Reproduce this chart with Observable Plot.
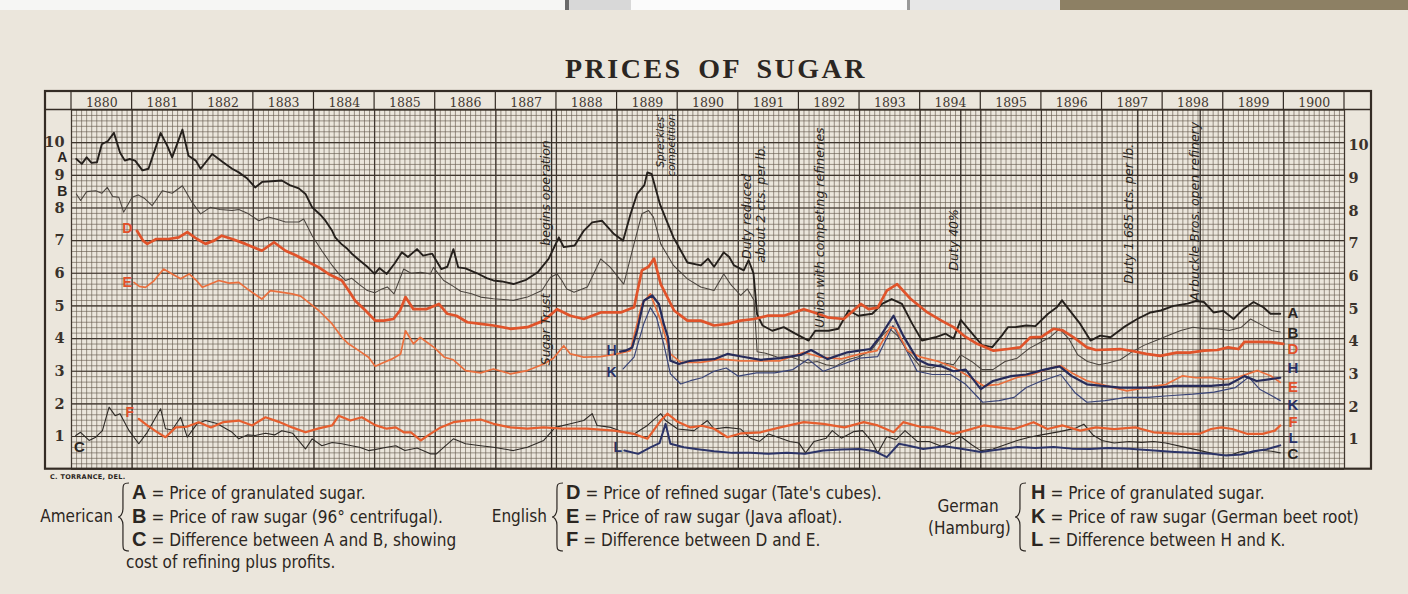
<!DOCTYPE html>
<html><head><meta charset="utf-8">
<script src="https://cdn.jsdelivr.net/npm/d3@7"></script>
<script src="https://cdn.jsdelivr.net/npm/@observablehq/plot@0.6"></script>
<style>
html,body{margin:0;padding:0}
body{width:1408px;height:594px;overflow:hidden;position:relative;background:#ebe6dc;color:#2b2622}
.top{position:absolute;top:0;height:10px}
#title{position:absolute;left:12px;width:1408px;top:52px;line-height:34px;text-align:center;font-family:"Liberation Serif",serif;font-weight:bold;font-size:28px;letter-spacing:2.5px;word-spacing:6px;color:#2b2622}
#chart{position:absolute;left:0;top:88px}
.lg{position:absolute;font-family:"Liberation Sans Narrow","DejaVu Sans Condensed","Liberation Sans",sans-serif;font-size:17px;line-height:20px;white-space:nowrap;color:#2b2622}
.lg b{font-family:"Liberation Sans",sans-serif;font-weight:bold;font-size:20px;margin-right:5px}
.brace{position:absolute}
#del{position:absolute;left:50px;top:473px;font-family:"DejaVu Sans",sans-serif;font-weight:bold;font-size:6.5px;letter-spacing:0.3px;color:#2b2622}
</style></head>
<body>
<div class="top" style="left:0;width:565px;background:#f6f6f4"></div>
<div class="top" style="left:565px;width:4px;background:#6a6a6a"></div>
<div class="top" style="left:569px;width:62px;background:#d8d8d8"></div>
<div class="top" style="left:631px;width:276px;background:#fbfbfb"></div>
<div class="top" style="left:907px;width:3px;background:#9a9a9a"></div>
<div class="top" style="left:910px;width:150px;background:#e7e7e7"></div>
<div class="top" style="left:1060px;width:348px;background:#8d8064"></div>
<div id="title">PRICES OF SUGAR</div>
<div id="chart"></div>
<div id="del">C. TORRANCE, DEL.</div>
<div id="legend"></div>
<script>
// ---------- data: [year, cents per lb] ----------
const seriesA = [[1880.08,9.5],[1880.17,9.35],[1880.25,9.55],[1880.33,9.38],[1880.42,9.4],[1880.5,9.95],[1880.6,10.05],[1880.7,10.3],[1880.8,9.7],[1880.88,9.45],[1880.96,9.5],[1881.05,9.45],[1881.17,9.15],[1881.27,9.2],[1881.47,10.3],[1881.58,9.9],[1881.66,9.55],[1881.83,10.4],[1881.93,9.6],[1882.05,9.45],[1882.13,9.2],[1882.32,9.65],[1882.5,9.4],[1882.65,9.2],[1882.76,9.09],[1882.9,8.9],[1883.03,8.63],[1883.15,8.8],[1883.3,8.82],[1883.47,8.84],[1883.6,8.7],[1883.75,8.6],[1883.86,8.43],[1883.97,8.02],[1884.1,7.8],[1884.19,7.61],[1884.3,7.3],[1884.35,7.1],[1884.45,6.9],[1884.55,6.75],[1884.63,6.59],[1884.75,6.4],[1884.88,6.2],[1885.0,5.98],[1885.08,6.16],[1885.2,5.98],[1885.33,6.3],[1885.45,6.64],[1885.55,6.5],[1885.7,6.74],[1885.8,6.54],[1885.95,6.6],[1886.1,6.13],[1886.2,6.2],[1886.3,6.74],[1886.38,6.18],[1886.5,6.15],[1886.69,6.0],[1886.85,5.85],[1886.96,5.78],[1887.1,5.75],[1887.29,5.67],[1887.5,5.8],[1887.69,6.03],[1887.87,6.44],[1888.04,7.1],[1888.12,6.8],[1888.3,6.85],[1888.45,7.3],[1888.59,7.56],[1888.75,7.61],[1888.95,7.2],[1889.1,7.0],[1889.22,7.8],[1889.33,8.43],[1889.45,8.7],[1889.5,9.09],[1889.57,9.04],[1889.71,8.1],[1889.82,7.6],[1889.93,7.1],[1890.05,6.7],[1890.16,6.33],[1890.38,6.24],[1890.5,6.45],[1890.6,6.2],[1890.76,6.64],[1890.85,6.5],[1890.93,6.24],[1891.09,6.09],[1891.17,6.4],[1891.25,6.0],[1891.31,4.74],[1891.4,4.4],[1891.56,4.24],[1891.75,4.35],[1891.94,4.15],[1892.16,3.94],[1892.27,4.24],[1892.49,4.24],[1892.65,4.3],[1892.82,4.86],[1892.98,4.7],[1893.21,4.76],[1893.37,5.06],[1893.53,5.21],[1893.7,5.06],[1893.87,4.45],[1894.03,3.94],[1894.25,4.04],[1894.42,4.15],[1894.55,4.0],[1894.67,4.57],[1894.86,4.15],[1895.02,3.8],[1895.19,3.74],[1895.35,4.1],[1895.45,4.35],[1895.57,4.35],[1895.75,4.4],[1895.9,4.38],[1896.11,4.76],[1896.25,4.95],[1896.34,5.17],[1896.45,4.9],[1896.64,4.45],[1896.81,3.94],[1896.97,4.09],[1897.14,4.04],[1897.36,4.35],[1897.58,4.6],[1897.8,4.8],[1897.97,4.86],[1898.18,5.0],[1898.41,5.07],[1898.55,5.15],[1898.68,5.12],[1898.84,4.8],[1899.0,4.85],[1899.17,4.6],[1899.33,4.9],[1899.5,5.12],[1899.66,4.96],[1899.78,4.76],[1899.94,4.76]];
const seriesB = [[1880.08,8.43],[1880.15,8.23],[1880.25,8.5],[1880.4,8.53],[1880.5,8.45],[1880.59,8.63],[1880.68,8.35],[1880.78,8.33],[1880.86,7.87],[1881.0,8.33],[1881.1,8.4],[1881.2,8.3],[1881.33,8.07],[1881.5,8.53],[1881.66,8.45],[1881.83,8.68],[1881.99,8.17],[1882.13,7.82],[1882.29,8.02],[1882.45,7.95],[1882.65,7.92],[1882.76,7.95],[1882.92,7.82],[1883.09,7.61],[1883.25,7.72],[1883.4,7.65],[1883.53,7.57],[1883.75,7.57],[1883.83,7.66],[1883.97,7.15],[1884.13,6.69],[1884.3,6.24],[1884.41,5.98],[1884.52,5.78],[1884.62,5.85],[1884.74,5.67],[1884.88,5.47],[1885.0,5.4],[1885.1,5.5],[1885.21,5.58],[1885.32,5.37],[1885.48,6.13],[1885.6,6.0],[1885.76,6.03],[1885.92,5.98],[1885.97,6.18],[1886.14,5.78],[1886.3,5.6],[1886.42,5.45],[1886.6,5.37],[1886.75,5.27],[1886.96,5.22],[1887.29,5.17],[1887.52,5.27],[1887.76,5.47],[1887.9,5.88],[1888.01,5.98],[1888.09,5.78],[1888.17,5.52],[1888.29,5.42],[1888.51,5.58],[1888.73,6.44],[1888.89,6.18],[1889.11,5.67],[1889.28,6.9],[1889.41,7.82],[1889.52,7.92],[1889.6,7.72],[1889.72,6.9],[1889.93,6.24],[1890.16,5.83],[1890.38,5.58],[1890.6,5.47],[1890.76,5.98],[1890.87,5.67],[1891.04,5.32],[1891.15,5.52],[1891.26,5.17],[1891.31,3.6],[1891.45,3.55],[1891.65,3.43],[1891.85,3.45],[1892.0,3.35],[1892.15,3.25],[1892.3,3.3],[1892.45,3.2],[1892.6,3.15],[1892.8,3.35],[1893.0,3.45],[1893.2,3.65],[1893.4,4.15],[1893.5,4.3],[1893.62,4.1],[1893.8,3.6],[1894.0,3.15],[1894.2,3.1],[1894.4,3.25],[1894.55,3.2],[1894.67,3.5],[1894.85,3.3],[1895.02,3.05],[1895.2,3.05],[1895.4,3.3],[1895.6,3.4],[1895.8,3.7],[1895.95,3.85],[1896.15,4.05],[1896.3,4.3],[1896.45,4.0],[1896.6,3.5],[1896.76,3.3],[1896.95,3.2],[1897.1,3.25],[1897.3,3.35],[1897.5,3.6],[1897.7,3.8],[1897.9,3.95],[1898.1,4.1],[1898.3,4.25],[1898.5,4.35],[1898.7,4.3],[1898.9,4.3],[1899.1,4.25],[1899.3,4.35],[1899.45,4.6],[1899.6,4.45],[1899.8,4.25],[1899.94,4.2]];
const seriesC = [[1880.07,1.03],[1880.15,1.13],[1880.29,0.88],[1880.4,0.98],[1880.51,1.18],[1880.62,1.9],[1880.72,1.64],[1880.8,1.7],[1880.95,1.18],[1881.11,0.78],[1881.25,1.13],[1881.47,1.85],[1881.55,1.24],[1881.66,1.2],[1881.8,1.59],[1881.91,0.98],[1882.07,1.39],[1882.21,1.49],[1882.4,1.4],[1882.65,1.13],[1882.76,0.93],[1882.9,1.05],[1883.03,1.03],[1883.2,1.1],[1883.35,1.05],[1883.47,1.18],[1883.65,1.1],[1883.86,0.62],[1883.97,0.93],[1884.13,0.72],[1884.3,0.82],[1884.46,0.78],[1884.62,0.72],[1884.75,0.67],[1884.9,0.57],[1885.0,0.6],[1885.2,0.67],[1885.35,0.72],[1885.5,0.57],[1885.7,0.65],[1885.92,0.47],[1886.02,0.47],[1886.14,0.67],[1886.3,0.93],[1886.5,0.78],[1886.75,0.72],[1886.96,0.67],[1887.29,0.57],[1887.52,0.67],[1887.79,0.88],[1887.98,1.28],[1888.23,1.39],[1888.45,1.49],[1888.59,1.7],[1888.67,1.34],[1888.9,1.28],[1889.11,1.13],[1889.28,1.08],[1889.5,1.34],[1889.72,1.7],[1889.8,1.49],[1890.0,1.23],[1890.27,1.18],[1890.49,1.49],[1890.6,1.23],[1890.8,1.28],[1891.04,1.23],[1891.2,0.95],[1891.35,0.85],[1891.5,1.08],[1891.7,0.95],[1891.85,0.85],[1892.0,0.8],[1892.11,0.5],[1892.25,0.85],[1892.45,0.95],[1892.55,1.18],[1892.7,0.95],[1892.9,1.15],[1893.05,1.18],[1893.2,0.85],[1893.3,0.5],[1893.45,1.0],[1893.6,0.9],[1893.75,1.18],[1893.95,0.85],[1894.15,0.85],[1894.35,0.7],[1894.5,0.8],[1894.67,1.0],[1894.85,0.75],[1895.0,0.57],[1895.2,0.62],[1895.4,0.75],[1895.6,0.88],[1895.8,0.98],[1896.0,1.05],[1896.3,1.15],[1896.55,1.25],[1896.7,1.38],[1896.85,1.05],[1897.0,0.88],[1897.2,0.8],[1897.45,0.85],[1897.65,0.82],[1897.85,0.85],[1898.05,0.8],[1898.3,0.7],[1898.55,0.6],[1898.85,0.47],[1899.0,0.42],[1899.15,0.45],[1899.3,0.55],[1899.45,0.5],[1899.6,0.58],[1899.8,0.55],[1899.94,0.5]];
const seriesD = [[1881.08,7.3],[1881.18,7.0],[1881.25,6.9],[1881.4,7.05],[1881.6,7.05],[1881.77,7.1],[1881.91,7.26],[1882.07,7.05],[1882.21,6.9],[1882.35,7.0],[1882.48,7.15],[1882.65,7.05],[1882.87,6.9],[1883.0,6.8],[1883.14,6.69],[1883.34,6.95],[1883.53,6.69],[1883.7,6.55],[1883.86,6.39],[1884.08,6.18],[1884.24,5.98],[1884.46,5.78],[1884.58,5.45],[1884.68,5.16],[1884.85,4.86],[1885.01,4.55],[1885.15,4.55],[1885.31,4.6],[1885.42,4.86],[1885.51,5.27],[1885.64,4.9],[1885.85,4.9],[1886.06,5.06],[1886.2,4.76],[1886.35,4.7],[1886.53,4.5],[1886.75,4.45],[1886.96,4.4],[1887.24,4.3],[1887.52,4.35],[1887.79,4.55],[1888.01,4.9],[1888.23,4.7],[1888.45,4.6],[1888.73,4.8],[1889.06,4.8],[1889.28,4.96],[1889.41,6.09],[1889.52,6.2],[1889.61,6.45],[1889.72,5.67],[1889.94,4.86],[1890.16,4.55],[1890.38,4.55],[1890.6,4.4],[1890.82,4.45],[1891.04,4.55],[1891.26,4.6],[1891.48,4.7],[1891.75,4.7],[1892.08,4.9],[1892.25,4.8],[1892.47,4.65],[1892.74,4.6],[1893.02,5.06],[1893.15,4.9],[1893.3,4.95],[1893.45,5.47],[1893.62,5.67],[1893.84,5.22],[1894.12,4.8],[1894.35,4.55],[1894.55,4.35],[1894.75,4.05],[1894.94,3.84],[1895.21,3.63],[1895.45,3.68],[1895.65,3.73],[1895.82,4.04],[1896.0,4.05],[1896.2,4.3],[1896.35,4.25],[1896.53,4.04],[1896.75,3.73],[1896.9,3.65],[1897.3,3.68],[1897.5,3.62],[1897.73,3.53],[1897.96,3.47],[1898.23,3.57],[1898.45,3.57],[1898.68,3.63],[1898.9,3.65],[1899.08,3.73],[1899.25,3.68],[1899.35,3.9],[1899.6,3.9],[1899.78,3.89],[1899.99,3.84]];
const seriesE = [[1881.03,5.72],[1881.12,5.6],[1881.22,5.57],[1881.35,5.75],[1881.52,6.13],[1881.66,5.98],[1881.8,5.83],[1881.94,5.98],[1882.05,5.8],[1882.16,5.57],[1882.43,5.78],[1882.6,5.7],[1882.76,5.72],[1882.9,5.52],[1883.14,5.21],[1883.28,5.47],[1883.45,5.42],[1883.64,5.37],[1883.78,5.3],[1883.91,5.11],[1884.08,4.86],[1884.3,4.45],[1884.46,4.04],[1884.57,3.84],[1884.74,3.63],[1884.9,3.43],[1885.01,3.15],[1885.15,3.27],[1885.28,3.37],[1885.43,3.53],[1885.51,4.24],[1885.64,3.84],[1885.75,4.04],[1885.98,3.73],[1886.15,3.43],[1886.3,3.35],[1886.5,3.02],[1886.75,2.95],[1886.96,3.07],[1887.24,2.92],[1887.52,3.02],[1887.79,3.22],[1887.95,3.4],[1888.12,3.78],[1888.23,3.53],[1888.45,3.43],[1888.73,3.45],[1889.0,3.53],[1889.22,3.63],[1889.41,5.06],[1889.55,5.37],[1889.72,4.55],[1889.88,3.53],[1890.05,3.27],[1890.38,3.27],[1890.71,3.37],[1891.04,3.32],[1891.37,3.32],[1891.69,3.32],[1892.08,3.58],[1892.36,3.43],[1892.7,3.38],[1893.02,3.53],[1893.29,3.63],[1893.51,4.35],[1893.6,4.3],[1893.79,3.63],[1894.01,3.43],[1894.3,3.3],[1894.55,3.12],[1894.83,2.81],[1895.05,2.55],[1895.3,2.6],[1895.6,2.81],[1895.85,2.9],[1896.1,3.07],[1896.32,3.17],[1896.53,2.92],[1896.75,2.71],[1897.08,2.55],[1897.41,2.4],[1897.73,2.5],[1898.06,2.6],[1898.33,2.86],[1898.55,2.8],[1898.79,2.81],[1899.0,2.75],[1899.23,2.81],[1899.56,3.02],[1899.78,2.86],[1899.94,2.66]];
const seriesF = [[1881.11,1.54],[1881.25,1.34],[1881.4,1.15],[1881.55,0.98],[1881.72,1.28],[1881.9,1.3],[1882.1,1.44],[1882.3,1.28],[1882.5,1.44],[1882.76,1.49],[1882.98,1.34],[1883.2,1.59],[1883.42,1.45],[1883.64,1.28],[1883.86,1.13],[1884.08,1.25],[1884.3,1.34],[1884.41,1.64],[1884.6,1.49],[1884.79,1.59],[1885.01,1.35],[1885.2,1.24],[1885.35,1.28],[1885.48,1.13],[1885.6,1.13],[1885.76,0.88],[1885.92,1.08],[1886.09,1.28],[1886.3,1.44],[1886.5,1.49],[1886.75,1.52],[1886.96,1.39],[1887.24,1.28],[1887.52,1.24],[1887.79,1.28],[1888.1,1.24],[1888.5,1.24],[1888.95,1.18],[1889.28,1.08],[1889.5,0.93],[1889.72,1.49],[1889.83,1.7],[1890.0,1.45],[1890.21,1.28],[1890.4,1.33],[1890.6,1.24],[1890.82,0.98],[1891.05,1.1],[1891.37,1.13],[1891.69,1.28],[1892.08,1.44],[1892.4,1.39],[1892.75,1.28],[1893.07,1.44],[1893.3,1.34],[1893.56,1.13],[1893.72,1.44],[1894.0,1.3],[1894.2,1.28],[1894.55,1.08],[1894.75,1.18],[1895.05,1.34],[1895.3,1.28],[1895.55,1.23],[1895.87,1.44],[1896.1,1.23],[1896.35,1.34],[1896.64,1.18],[1896.9,1.28],[1897.2,1.23],[1897.55,1.28],[1897.85,1.13],[1898.28,1.08],[1898.6,1.08],[1898.8,1.23],[1898.97,1.28],[1899.15,1.23],[1899.4,1.08],[1899.65,1.08],[1899.85,1.18],[1899.94,1.34]];
const seriesH = [[1889.05,3.6],[1889.14,3.63],[1889.25,3.73],[1889.33,4.24],[1889.44,5.16],[1889.58,5.32],[1889.69,5.06],[1889.77,4.45],[1889.84,4.04],[1889.88,3.32],[1890.02,3.22],[1890.21,3.32],[1890.4,3.35],[1890.6,3.37],[1890.82,3.53],[1891.05,3.45],[1891.37,3.35],[1891.7,3.4],[1892.03,3.5],[1892.2,3.65],[1892.47,3.37],[1892.8,3.58],[1893.18,3.68],[1893.35,4.09],[1893.56,4.7],[1893.72,4.09],[1893.95,3.37],[1894.14,3.2],[1894.35,3.15],[1894.55,3.0],[1894.75,3.05],[1895.0,2.45],[1895.2,2.7],[1895.5,2.85],[1895.75,2.9],[1896.05,3.05],[1896.3,3.15],[1896.5,2.85],[1896.75,2.6],[1897.0,2.55],[1897.3,2.5],[1897.6,2.5],[1897.9,2.5],[1898.2,2.55],[1898.5,2.55],[1898.8,2.55],[1899.1,2.6],[1899.35,2.85],[1899.55,2.7],[1899.75,2.75],[1899.94,2.8]];
const seriesK = [[1889.1,3.07],[1889.28,3.43],[1889.44,4.45],[1889.55,4.95],[1889.65,4.65],[1889.77,3.83],[1889.88,2.92],[1890.05,2.61],[1890.21,2.71],[1890.4,2.8],[1890.6,3.0],[1890.8,3.1],[1891.0,2.85],[1891.3,2.95],[1891.6,2.95],[1891.9,3.05],[1892.15,3.37],[1892.4,3.0],[1892.7,3.2],[1893.0,3.4],[1893.3,3.45],[1893.55,4.4],[1893.7,3.9],[1893.95,3.0],[1894.2,2.9],[1894.5,2.9],[1894.75,2.6],[1895.03,2.05],[1895.3,2.1],[1895.55,2.2],[1895.75,2.5],[1896.0,2.7],[1896.32,2.9],[1896.55,2.35],[1896.75,2.05],[1897.05,2.1],[1897.4,2.2],[1897.75,2.2],[1898.1,2.25],[1898.5,2.3],[1898.85,2.36],[1899.2,2.5],[1899.42,2.82],[1899.6,2.45],[1899.8,2.25],[1899.94,2.1]];
const seriesL = [[1889.12,0.57],[1889.35,0.47],[1889.55,0.67],[1889.7,0.8],[1889.8,1.39],[1889.88,0.78],[1890.1,0.67],[1890.3,0.62],[1890.6,0.55],[1890.9,0.5],[1891.2,0.5],[1891.5,0.47],[1891.8,0.5],[1892.1,0.47],[1892.4,0.57],[1892.7,0.6],[1893.0,0.62],[1893.25,0.55],[1893.45,0.37],[1893.65,0.78],[1893.85,0.7],[1894.05,0.62],[1894.4,0.7],[1894.7,0.62],[1895.0,0.53],[1895.3,0.6],[1895.6,0.68],[1895.9,0.65],[1896.2,0.68],[1896.5,0.63],[1896.8,0.62],[1897.1,0.65],[1897.45,0.63],[1897.8,0.58],[1898.2,0.53],[1898.5,0.5],[1898.8,0.47],[1899.05,0.42],[1899.3,0.45],[1899.5,0.55],[1899.7,0.6],[1899.94,0.73]];

const yearLabels = [1880,1881,1882,1883,1884,1885,1886,1887,1888,1889,1890,1891,1892,1893,1894,1895,1896,1897,1898,1899,1900];
const valueTicks = [1,2,3,4,5,6,7,8,9,10];

// series letter labels (anchor year, value)
const seriesLabels = [
  {s:"A",t:1879.85,v:9.54,sz:14},{s:"B",t:1879.85,v:8.49,sz:14},{s:"C",t:1880.13,v:0.68,sz:15},
  {s:"D",t:1880.92,v:7.36,sz:14},{s:"E",t:1880.92,v:5.71,sz:14},{s:"F",t:1880.96,v:1.74,sz:14},
  {s:"H",t:1888.91,v:3.63,sz:14},{s:"K",t:1888.91,v:2.96,sz:14},{s:"L",t:1889.01,v:0.66,sz:14},
  {s:"A",t:1900.15,v:4.79,sz:16},{s:"B",t:1900.15,v:4.15,sz:16},{s:"D",t:1900.15,v:3.66,sz:16},
  {s:"H",t:1900.15,v:3.1,sz:16},{s:"E",t:1900.15,v:2.52,sz:16},{s:"K",t:1900.15,v:1.96,sz:16},
  {s:"F",t:1900.15,v:1.45,sz:16},{s:"L",t:1900.15,v:0.94,sz:16},{s:"C",t:1900.15,v:0.45,sz:16}
];

// annotations along vertical lines (text reads upward)
const notes = [
  {text:"Sugar Trust",t:1887.82,v:4.28,anchor:"middle"},
  {text:"begins operation",t:1887.82,v:8.46,anchor:"middle"},
  {text:"Spreckles'",t:1889.72,v:10.88,anchor:"end"},
  {text:"competition",t:1889.9,v:10.88,anchor:"end"},
  {text:"Duty reduced",t:1891.14,v:6.44,anchor:"start"},
  {text:"about 2 cts. per lb.",t:1891.37,v:6.32,anchor:"start"},
  {text:"Union with competing refineries",t:1892.35,v:4.33,anchor:"start"},
  {text:"Duty 40%",t:1894.55,v:6.08,anchor:"start"},
  {text:"Duty 1.685 cts. per lb.",t:1897.45,v:5.68,anchor:"start"},
  {text:"Arbuckle Bros. open refinery",t:1898.53,v:5.16,anchor:"start"}
];
const noteLines = [1887.92, 1894.67, 1897.59, 1898.62];

// ---------- styles ----------
const ink = "#2b2622";
const styles = {
  A:{stroke:"#25201c",w:1.9}, B:{stroke:"#4a443e",w:1.05}, C:{stroke:"#2e2a26",w:1.1},
  D:{stroke:"#e0532a",w:2.7}, E:{stroke:"#ea6f3d",w:1.7}, F:{stroke:"#e65e2e",w:2.2},
  H:{stroke:"#262b5a",w:2.2}, K:{stroke:"#3a4578",w:1.2}, L:{stroke:"#2c3468",w:2.0}
};
const seriesData = {A:seriesA,B:seriesB,C:seriesC,D:seriesD,E:seriesE,F:seriesF,H:seriesH,K:seriesK,L:seriesL};
const drawOrder = ["B","K","C","E","A","D","F","H","L"];
const labelColor = {A:ink,B:ink,C:ink,D:"#e2502a",E:"#e2502a",F:"#e2502a",H:"#283066",K:"#283066",L:"#283066"};

const monthLines = d3.range(0, 21*12 + 1).map(i => 1880 + i/12);
const sixthLines = d3.range(0, 66 + 1).map(i => i/6);
const yearLines = d3.range(1880, 1902);
const unitLines = d3.range(0, 12);

const lineMarks = drawOrder.map(k => Plot.line(seriesData[k], {
  x: d => d[0], y: d => d[1], stroke: styles[k].stroke, strokeWidth: styles[k].w,
  strokeLinejoin: "round", strokeLinecap: "round"
}));

const noteFont = {fontFamily: "DejaVu Sans, sans-serif", fontStyle: "italic", fontSize: 12.5, fill: "#2a2520", rotate: -90};

const plot = Plot.plot({
  width: 1408, height: 390,
  marginLeft: 71, marginRight: 64, marginTop: 21.5, marginBottom: 9.3,
  x: {domain: [1880, 1901], axis: null},
  y: {domain: [0, 11], axis: null},
  style: {background: "transparent", overflow: "visible"},
  marks: [
    Plot.ruleX(monthLines, {stroke: "#675c4f", strokeWidth: 0.75, strokeOpacity: 0.85}),
    Plot.ruleY(sixthLines, {stroke: "#675c4f", strokeWidth: 0.75, strokeOpacity: 0.85}),
    Plot.ruleX(yearLines, {stroke: "#3f362e", strokeWidth: 1.25}),
    Plot.ruleY(unitLines, {stroke: "#3f362e", strokeWidth: 1.15}),
    Plot.ruleX(noteLines, {stroke: "#352d26", strokeWidth: 1.3}),
    Plot.axisX({anchor: "top", ticks: yearLabels.map(y => y + 0.5), tickFormat: d => String(Math.floor(d)),
      tickSize: 0, tickPadding: 3.5, fontFamily: "DejaVu Serif, serif", fontSize: 12.5, fill: "#3f3730", label: null}),
    Plot.axisY({anchor: "left", ticks: valueTicks, tickFormat: d => String(d), tickSize: 0, tickPadding: 7,
      fontFamily: "DejaVu Serif, serif", fontSize: 14.5, fontWeight: "bold", fill: "#3a322b", label: null}),
    Plot.axisY({anchor: "right", ticks: valueTicks, tickFormat: d => String(d), tickSize: 0, tickPadding: 4, dy: 3,
      fontFamily: "DejaVu Serif, serif", fontSize: 14.5, fontWeight: "bold", fill: "#3a322b", label: null}),
    ...lineMarks,
    Plot.text(notes.filter(d => d.anchor === "middle"), {x: "t", y: "v", text: "text", textAnchor: "middle", ...noteFont}),
    Plot.text(notes.filter(d => d.anchor === "start"), {x: "t", y: "v", text: "text", textAnchor: "start", ...noteFont}),
    Plot.text(notes.filter(d => d.anchor === "end"), {x: "t", y: "v", text: "text", textAnchor: "end", ...noteFont, fontSize: 10.5}),
    Plot.text(seriesLabels.filter(d => d.sz === 14), {x: "t", y: "v", text: "s", fill: d => labelColor[d.s],
      fontFamily: "Liberation Sans, sans-serif", fontWeight: "bold", fontSize: 14, textAnchor: "middle"}),
    Plot.text(seriesLabels.filter(d => d.sz === 15), {x: "t", y: "v", text: "s", fill: d => labelColor[d.s],
      fontFamily: "Liberation Sans, sans-serif", fontWeight: "bold", fontSize: 15, textAnchor: "middle"}),
    Plot.text(seriesLabels.filter(d => d.sz === 16), {x: "t", y: "v", text: "s", fill: d => labelColor[d.s],
      fontFamily: "Liberation Sans, sans-serif", fontWeight: "bold", fontSize: 15, textAnchor: "middle"})
  ]
});

// frame and year-header row, placed with the plot's own scales
(function decorate() {
  const xs = plot.scale("x"), ys = plot.scale("y");
  const svg = d3.select(plot);
  const g = svg.append("g").attr("fill", "none").attr("stroke", "#342c25");
  const left = xs.apply(1880) - 26, right = xs.apply(1901) + 27;
  const top = 3, headBottom = ys.apply(11), bottom = ys.apply(0);
  g.append("rect").attr("x", left).attr("y", top).attr("width", right - left).attr("height", bottom - top).attr("stroke-width", 2.2);
  g.append("line").attr("x1", left).attr("x2", right).attr("y1", headBottom).attr("y2", headBottom).attr("stroke-width", 1.6);
  yearLines.forEach(yr => {
    const x = xs.apply(yr);
    g.append("line").attr("x1", x).attr("x2", x).attr("y1", top).attr("y2", headBottom).attr("stroke-width", 1.2);
  });
})();
document.getElementById("chart").appendChild(plot);

// ---------- legend ----------
function brace(x, y, h) {
  const w = 11, m = h / 2;
  const p = `M${w},0 C${w*0.45},0 ${w*0.45},2 ${w*0.45},8 L${w*0.45},${m-8} C${w*0.45},${m-3} ${w*0.2},${m} 0,${m} C${w*0.2},${m} ${w*0.45},${m+3} ${w*0.45},${m+8} L${w*0.45},${h-8} C${w*0.45},${h-2} ${w*0.45},${h} ${w},${h}`;
  return `<svg class="brace" style="left:${x}px;top:${y}px" width="${w+2}" height="${h+2}"><path d="${p}" transform="translate(1,1)" fill="none" stroke="${ink}" stroke-width="1.2"/></svg>`;
}
const groups = [
  {name:"American", nameX:113, braceX:117, rowX:132, rows:[["A","Price of granulated sugar."],["B","Price of raw sugar (96° centrifugal)."],["C","Difference between A and B, showing"]], extra:"cost of refining plus profits."},
  {name:"English", nameX:547, braceX:551, rowX:566, rows:[["D","Price of refined sugar (Tate's cubes)."],["E","Price of raw sugar (Java afloat)."],["F","Difference between D and E."]]},
  {name:"German<br>(Hamburg)", nameX:1008, braceX:1014, rowX:1031, rows:[["H","Price of granulated sugar."],["K","Price of raw sugar (German beet root)"],["L","Difference between H and K."]]}
];
const rowTops = [482, 506, 529];
let html = "";
groups.forEach(g => {
  if (g.name.includes("<br>")) {
    html += `<div class="lg" style="left:${g.nameX - 80}px;width:80px;top:495px;text-align:center;line-height:22px">${g.name}</div>`;
  } else {
    html += `<div class="lg" style="left:${g.nameX - 120}px;width:120px;top:506px;text-align:right">${g.name}</div>`;
  }
  html += brace(g.braceX, 482, 68);
  g.rows.forEach((r, i) => {
    html += `<div class="lg" style="left:${g.rowX}px;top:${rowTops[i]}px"><b>${r[0]}</b>= ${r[1]}</div>`;
  });
  if (g.extra) html += `<div class="lg" style="left:126px;top:552px">${g.extra}</div>`;
});
document.getElementById("legend").innerHTML = html;
</script>
</body></html>
